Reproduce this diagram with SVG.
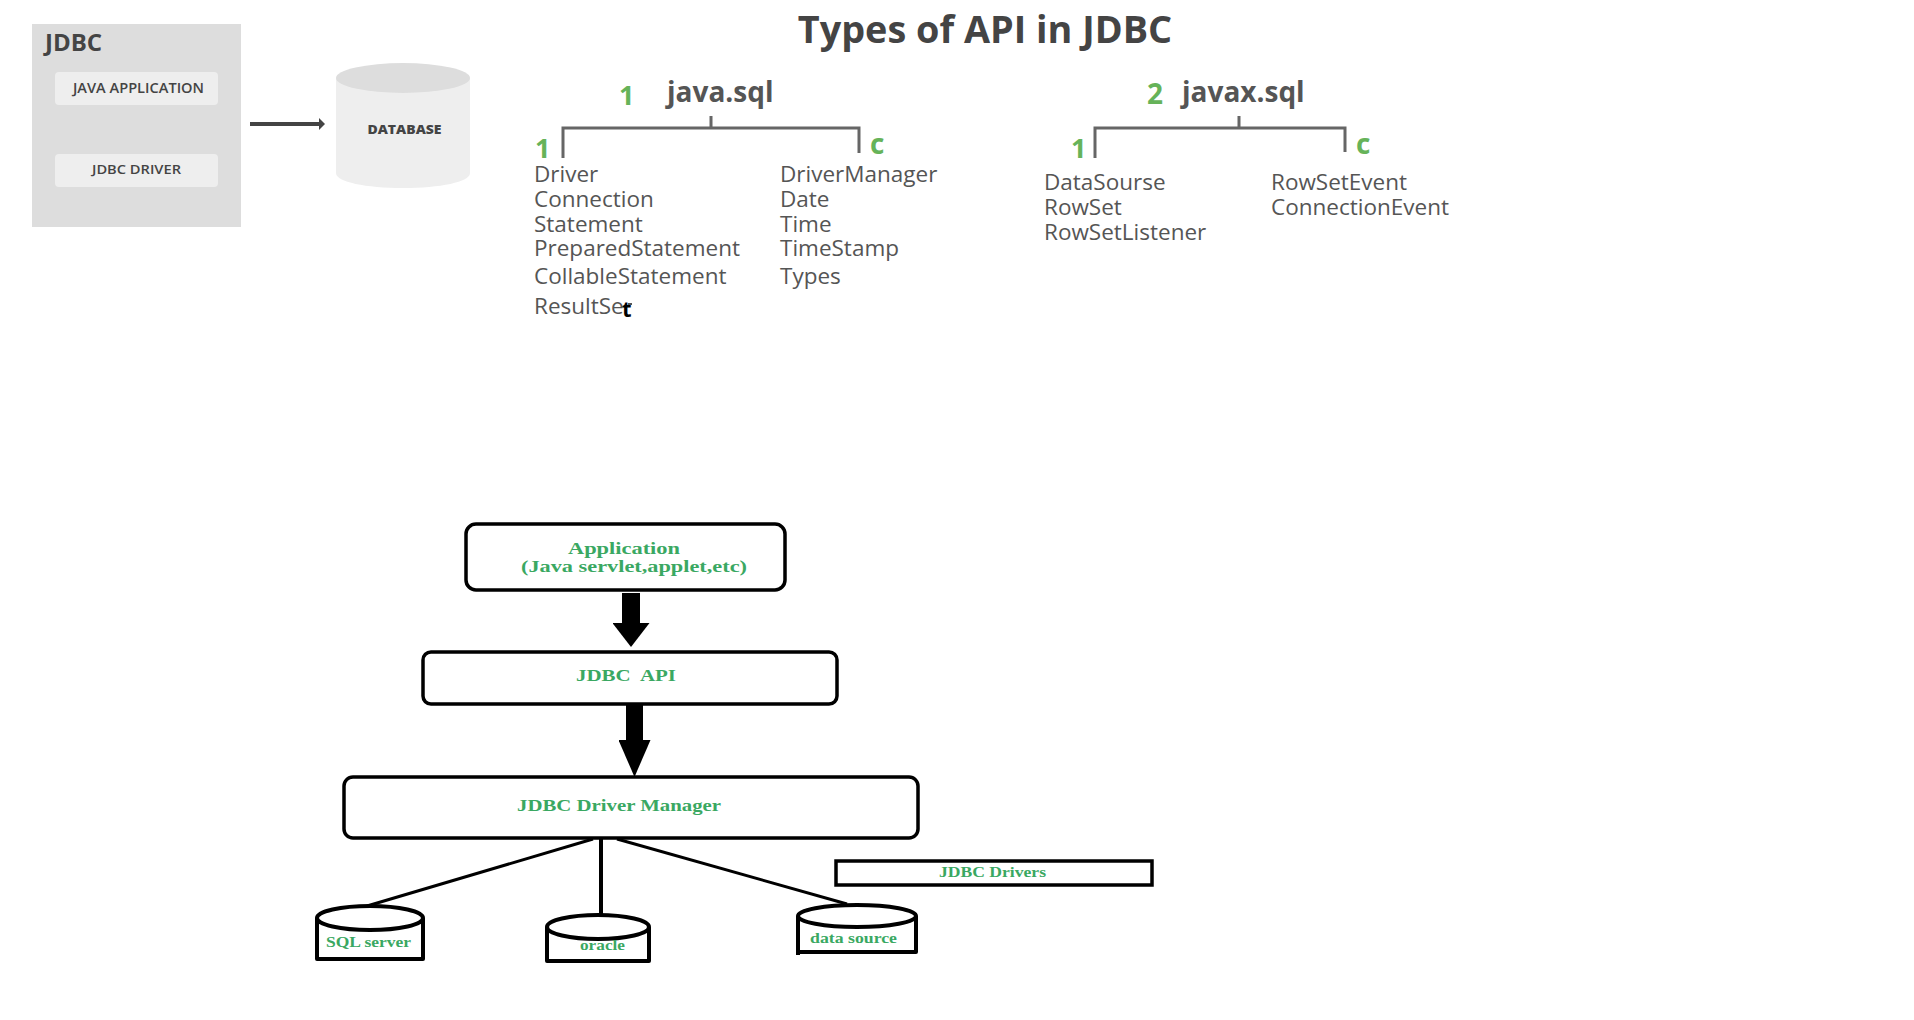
<svg xmlns="http://www.w3.org/2000/svg" width="1914" height="1020" viewBox="0 0 1914 1020">
<style>
text{font-family:"Open Sans","Noto Sans",sans-serif;white-space:pre}
.h{font-weight:700;fill:#555;font-size:28px}
.n{font-weight:700;fill:#66b359;font-size:28px}
.i{fill:#555;font-size:22.500px;font-weight:500}
.s{font-weight:600;fill:#444;font-size:13.500px}
.g{font-family:"Liberation Serif","Times New Roman",serif;font-weight:700;fill:#3aa862;font-size:17px}
.box{fill:#fff;stroke:#000;stroke-width:3.500}
.cyl{fill:#fff;stroke:#000;stroke-width:4;stroke-linejoin:round}
.br{fill:none;stroke:#666;stroke-width:3}
.fat{stroke:#000;fill:none}
</style>
<defs>
<marker id="head1" markerUnits="userSpaceOnUse" markerWidth="24" markerHeight="37" refX="0" refY="18.500" orient="auto"><path d="M0 0L24 18.500L0 37Z" fill="#000"/></marker>
<marker id="head2" markerUnits="userSpaceOnUse" markerWidth="37" markerHeight="32" refX="0" refY="16" orient="auto"><path d="M0 0L37 16L0 32Z" fill="#000"/></marker>
<marker id="head3" markerUnits="userSpaceOnUse" markerWidth="7" markerHeight="12" refX="0" refY="6" orient="auto"><path d="M0 0L6 6L0 12Z" fill="#444"/></marker>
</defs>
<g id="title"><text x="985" y="43" text-anchor="middle" font-size="37.800" font-weight="700" fill="#444">Types of API in JDBC</text></g>
<g id="jdbc-panel">
<rect x="32" y="24" width="209" height="203" fill="#ddd"/>
<text x="45" y="51" font-size="24" font-weight="700" fill="#444">JDBC</text>
</g>
<g id="java-application">
<rect x="55" y="72" width="163" height="33" rx="4" fill="#eee"/>
<text class="s" x="73" y="93" textLength="131" lengthAdjust="spacingAndGlyphs">JAVA APPLICATION</text>
</g>
<g id="jdbc-driver">
<rect x="55" y="154" width="163" height="33" rx="4" fill="#eee"/>
<text class="s" x="92" y="174" style="font-size:12px" textLength="89" lengthAdjust="spacingAndGlyphs">JDBC DRIVER</text>
</g>
<g id="database">
<path d="M336 78V173C336 182 366 188 403 188S470 182 470 173V78Z" fill="#eee"/>
<ellipse cx="403" cy="78" rx="67" ry="15" fill="#ddd"/>
<text x="367.500" y="134" font-size="12" font-weight="800" fill="#444" textLength="74" lengthAdjust="spacingAndGlyphs">DATABASE</text>
</g>
<g id="java-sql">
<text class="n" x="619" y="105" style="font-size:27px">1</text>
<text class="h" x="667" y="102">java.sql</text>
<text class="n" x="535" y="158" style="font-size:27px">1</text>
<text class="n" x="870" y="154">c</text>
<text class="i" x="534" y="182">Driver</text>
<text class="i" x="534" y="207">Connection</text>
<text class="i" x="534" y="232">Statement</text>
<text class="i" x="534" y="256">PreparedStatement</text>
<text class="i" x="534" y="284">CollableStatement</text>
<text class="i" x="534" y="314">ResultSe</text>
<text x="622" y="317" font-size="22" font-weight="700" fill="#000">t</text>
<path d="M628 304H632" stroke="#555" stroke-width="2" fill="none"/>
<text class="i" x="780" y="182">DriverManager</text>
<text class="i" x="780" y="207">Date</text>
<text class="i" x="780" y="232">Time</text>
<text class="i" x="780" y="256">TimeStamp</text>
<text class="i" x="780" y="284">Types</text>
</g>
<g id="javax-sql">
<text class="n" x="1147" y="104">2</text>
<text class="h" x="1182" y="102">javax.sql</text>
<text class="n" x="1071" y="158" style="font-size:27px">1</text>
<text class="n" x="1356" y="154">c</text>
<text class="i" x="1044" y="190">DataSourse</text>
<text class="i" x="1044" y="215">RowSet</text>
<text class="i" x="1044" y="240">RowSetListener</text>
<text class="i" x="1271" y="190">RowSetEvent</text>
<text class="i" x="1271" y="215">ConnectionEvent</text>
</g>
<g id="application">
<rect class="box" x="466" y="524" width="319" height="66" rx="10"/>
<text class="g" x="568" y="554" textLength="112" lengthAdjust="spacingAndGlyphs">Application</text>
<text class="g" x="521" y="572" textLength="226" lengthAdjust="spacingAndGlyphs">(Java servlet,applet,etc)</text>
</g>
<g id="jdbc-api">
<rect class="box" x="423" y="652" width="414" height="52" rx="8"/>
<text class="g" x="576" y="681" textLength="100" lengthAdjust="spacingAndGlyphs">JDBC  API</text>
</g>
<g id="driver-manager">
<rect class="box" x="344" y="777" width="574" height="61" rx="9"/>
<text class="g" x="517" y="811" textLength="204" lengthAdjust="spacingAndGlyphs">JDBC Driver Manager</text>
</g>
<g id="jdbc-drivers">
<rect class="box" x="836" y="861" width="316" height="24"/>
<text class="g" x="939" y="877" style="font-size:15px" textLength="107" lengthAdjust="spacingAndGlyphs">JDBC Drivers</text>
</g>
<g id="connectors">
<path class="br" d="M563 158V128H859V153M711 116V128"/>
<path class="br" d="M1095 158V128H1345V152M1239 116V128"/>
<line x1="250" y1="124" x2="319" y2="124" stroke="#444" stroke-width="4" marker-end="url(#head3)"/>
<line class="fat" x1="631" y1="593" x2="631" y2="623" stroke-width="18" marker-end="url(#head1)"/>
<line class="fat" x1="634.500" y1="705" x2="634.500" y2="740" stroke-width="17" marker-end="url(#head2)"/>
<line x1="593" y1="839" x2="367" y2="906" stroke="#000" stroke-width="3"/>
<line x1="601" y1="839" x2="601" y2="916" stroke="#000" stroke-width="4"/>
<line x1="617" y1="839" x2="847" y2="904" stroke="#000" stroke-width="3"/>
</g>
<g id="sql-server">
<path class="cyl" d="M317 918V959H423V918"/>
<ellipse class="cyl" cx="370" cy="918" rx="53" ry="12"/>
<text class="g" x="326" y="947" style="font-size:15px" textLength="85" lengthAdjust="spacingAndGlyphs">SQL server</text>
</g>
<g id="oracle">
<path class="cyl" d="M547 927V961H649V927"/>
<ellipse class="cyl" cx="598" cy="927" rx="51" ry="12"/>
<text class="g" x="580" y="950" style="font-size:15px" textLength="45" lengthAdjust="spacingAndGlyphs">oracle</text>
</g>
<g id="data-source">
<path class="cyl" d="M798 916V955M798 952H916V916"/>
<ellipse class="cyl" cx="857" cy="916" rx="59" ry="11"/>
<text class="g" x="810" y="943" style="font-size:15px" textLength="87" lengthAdjust="spacingAndGlyphs">data source</text>
</g>
</svg>
